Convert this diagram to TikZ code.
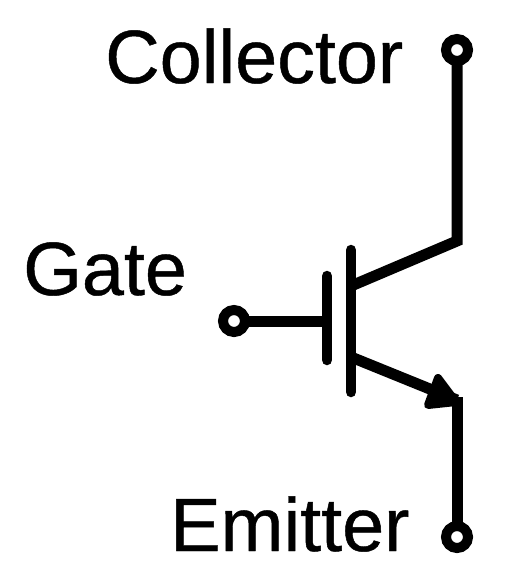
\documentclass[tikz,border=0pt]{standalone}
\usepackage{fontspec}
\setmainfont[FakeBold=0.6]{Liberation Sans}
\tikzset{
  wire/.style={line width=11pt,line cap=butt,line join=miter},
  bar/.style={line width=10.5pt,line cap=round},
  terminal/.style={circle,draw,fill=white,line width=10pt,minimum size=22pt,inner sep=0pt,outer sep=0pt},
  label/.style={anchor=base west,inner sep=0pt,font=\fontsize{75.5}{75.5}\selectfont},
  head/.style={fill,draw,line width=8pt,line join=round}
}
\begin{document}
\begin{tikzpicture}[x=1pt,y=-1pt]
\useasboundingbox (0,0) rectangle (511,573);
\node[label] (collectorlabel) at (105,83) {Collector};
\node[label] (gatelabel) at (23,295) {Gate};
\node[label] (emitterlabel) at (170,551) {Emitter};
\coordinate (cbend) at (457,241);
\coordinate (ejoin) at (457,400);
\coordinate (bartop) at (351,250);
\coordinate (barbot) at (351,392);
\coordinate (gtop) at (327,276);
\coordinate (gbot) at (327,360);
\coordinate (gmid) at (327,321);
\coordinate (cstart) at (351,286);
\coordinate (estart) at (351,357);
\coordinate (ah1) at (438,378);
\coordinate (ah2) at (428,405);
\coordinate (ahtip) at (456,402);
\draw[wire] (457,50) -- (cbend) -- (cstart);
\draw[wire] (estart) -- (ejoin);
\draw[wire] (ejoin) ++(0,-3) -- (457,537);
\draw[head] (ah1) -- (ahtip) -- (ah2) -- cycle;
\draw[wire] (234,321) -- (gmid);
\draw[bar] (bartop) -- (barbot);
\draw[bar] (gtop) -- (gbot);
\node[terminal] (collector) at (457,50) {};
\node[terminal] (gate) at (234,321) {};
\node[terminal] (emitter) at (457,537) {};
\end{tikzpicture}
\end{document}
